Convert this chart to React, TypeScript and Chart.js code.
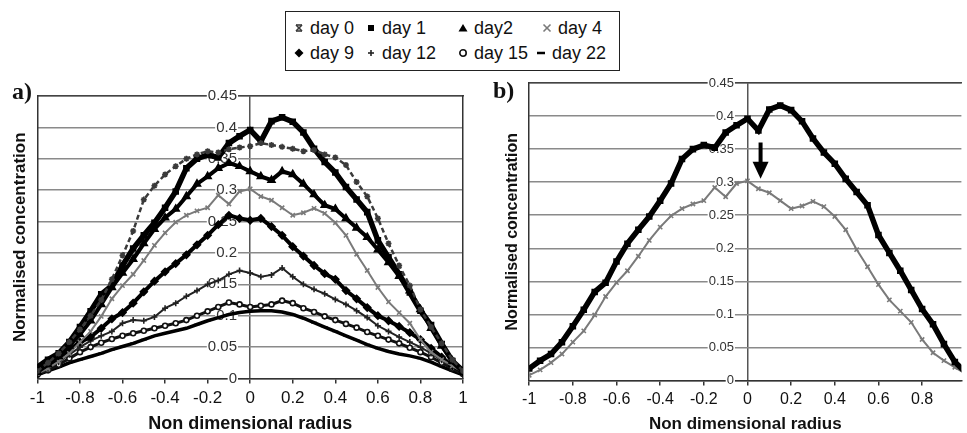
import React, { useEffect, useRef } from "react";
import { Chart, registerables } from "chart.js";

Chart.register(...registerables);

// ---------- data ----------
const radius = [-1, -0.95, -0.9, -0.85, -0.8, -0.75, -0.7, -0.65, -0.6, -0.55, -0.5, -0.45, -0.4, -0.35, -0.3, -0.25, -0.2, -0.15, -0.1, -0.05, 0, 0.05, 0.1, 0.15, 0.2, 0.25, 0.3, 0.35, 0.4, 0.45, 0.5, 0.55, 0.6, 0.65, 0.7, 0.75, 0.8, 0.85, 0.9, 0.95, 1];

const day0 = [0.012, 0.025, 0.04, 0.058, 0.078, 0.1, 0.125, 0.158, 0.196, 0.235, 0.285, 0.307, 0.325, 0.338, 0.35, 0.357, 0.362, 0.36, 0.365, 0.368, 0.37, 0.375, 0.372, 0.369, 0.366, 0.362, 0.364, 0.357, 0.352, 0.34, 0.313, 0.29, 0.255, 0.215, 0.18, 0.148, 0.11, 0.082, 0.056, 0.03, 0.012];
const day1 = [0.018, 0.03, 0.04, 0.058, 0.082, 0.107, 0.134, 0.148, 0.18, 0.207, 0.228, 0.248, 0.272, 0.298, 0.335, 0.35, 0.356, 0.352, 0.375, 0.386, 0.396, 0.378, 0.41, 0.416, 0.409, 0.392, 0.366, 0.345, 0.328, 0.305, 0.285, 0.265, 0.22, 0.193, 0.166, 0.137, 0.108, 0.085, 0.055, 0.028, 0.012];
const day2 = [0.01, 0.022, 0.035, 0.052, 0.07, 0.092, 0.118, 0.145, 0.168, 0.19, 0.215, 0.238, 0.256, 0.27, 0.29, 0.31, 0.322, 0.335, 0.343, 0.338, 0.33, 0.322, 0.316, 0.33, 0.325, 0.31, 0.293, 0.276, 0.27, 0.255, 0.24, 0.225, 0.205, 0.185, 0.163, 0.14, 0.11, 0.08, 0.052, 0.028, 0.01];
const day4 = [0.008, 0.016, 0.027, 0.04, 0.058, 0.075, 0.099, 0.127, 0.148, 0.166, 0.188, 0.212, 0.232, 0.249, 0.26, 0.267, 0.272, 0.292, 0.278, 0.298, 0.302, 0.29, 0.284, 0.272, 0.26, 0.264, 0.271, 0.263, 0.248, 0.228, 0.198, 0.172, 0.145, 0.122, 0.105, 0.088, 0.062, 0.042, 0.03, 0.02, 0.01];
const day9 = [0.008, 0.02, 0.032, 0.046, 0.058, 0.066, 0.08, 0.095, 0.105, 0.12, 0.138, 0.155, 0.17, 0.183, 0.197, 0.213, 0.228, 0.245, 0.26, 0.255, 0.252, 0.255, 0.242, 0.228, 0.21, 0.195, 0.18, 0.167, 0.158, 0.14, 0.127, 0.113, 0.1, 0.092, 0.083, 0.073, 0.062, 0.048, 0.034, 0.02, 0.01];
const day12 = [0.006, 0.015, 0.026, 0.038, 0.05, 0.06, 0.068, 0.075, 0.088, 0.093, 0.092, 0.098, 0.112, 0.12, 0.131, 0.14, 0.15, 0.156, 0.166, 0.172, 0.168, 0.162, 0.165, 0.176, 0.162, 0.15, 0.142, 0.135, 0.126, 0.118, 0.108, 0.097, 0.084, 0.075, 0.066, 0.058, 0.05, 0.04, 0.029, 0.018, 0.007];
const day15 = [0.006, 0.013, 0.022, 0.032, 0.042, 0.05, 0.057, 0.063, 0.068, 0.072, 0.076, 0.08, 0.084, 0.088, 0.093, 0.1, 0.107, 0.114, 0.121, 0.118, 0.114, 0.116, 0.118, 0.124, 0.12, 0.112, 0.106, 0.099, 0.093, 0.087, 0.081, 0.074, 0.068, 0.062, 0.056, 0.049, 0.042, 0.034, 0.025, 0.016, 0.007];
const day22 = [0.006, 0.012, 0.018, 0.025, 0.03, 0.035, 0.04, 0.046, 0.051, 0.056, 0.062, 0.068, 0.072, 0.076, 0.08, 0.086, 0.092, 0.097, 0.102, 0.105, 0.107, 0.108, 0.108, 0.106, 0.102, 0.096, 0.089, 0.082, 0.075, 0.068, 0.061, 0.054, 0.048, 0.043, 0.039, 0.036, 0.032, 0.026, 0.019, 0.012, 0.006];

const seriesLabels = ["day 0", "day 1", "day2", "day 4", "day 9", "day 12", "day 15", "day 22"];
const seriesValues = [day0, day1, day2, day4, day9, day12, day15, day22];
const panelBLabels = ["day 1", "day 4"];
const panelBValues = [day1, day4];

const xTicksA = [-1, -0.8, -0.6, -0.4, -0.2, 0, 0.2, 0.4, 0.6, 0.8, 1];
const xTicksB = [-1, -0.8, -0.6, -0.4, -0.2, 0, 0.2, 0.4, 0.6, 0.8];
const yTicks = [0, 0.05, 0.1, 0.15, 0.2, 0.25, 0.3, 0.35, 0.4, 0.45];

const arrowAt = 0.06;
const arrowFrom = 0.36;
const arrowTo = 0.305;

// ---------- styles ----------
type Style = { color: string; point: string; r: number; lw: number; dash?: number[]; fill?: string };
const styles: Record<string, Style> = {
  "day 0": { color: "#3a3a3a", point: "star", r: 3, lw: 2.5, dash: [5, 3] },
  "day 1": { color: "#000", point: "rect", r: 3.5, lw: 5.5 },
  "day2": { color: "#000", point: "triangle", r: 4, lw: 4 },
  "day 4": { color: "#7a7a7a", point: "crossRot", r: 3, lw: 2 },
  "day 9": { color: "#000", point: "rectRot", r: 3.5, lw: 4 },
  "day 12": { color: "#222", point: "cross", r: 3, lw: 2 },
  "day 15": { color: "#111", point: "circle", r: 2.5, lw: 3, fill: "#fff" },
  "day 22": { color: "#000", point: "line", r: 3, lw: 3.5 },
};

const FONT = "'Liberation Sans', Arial, Helvetica, sans-serif";
// gap (in radius units) between the centred y-axis line and its tick labels
const LABEL_SHIFT = 0.062;

function makeDataset(label: string, values: number[]) {
  const s = styles[label];
  return {
    label,
    data: radius.map((x, i) => ({ x, y: values[i] })),
    showLine: true,
    borderColor: s.color,
    borderWidth: s.lw,
    borderDash: s.dash || [],
    pointStyle: s.point,
    pointRadius: s.r,
    pointBorderWidth: 1.6,
    pointBorderColor: s.color,
    pointBackgroundColor: s.fill || s.color,
    xAxisID: "x",
    yAxisID: "y",
  };
}

const arrowPlugin = {
  id: "arrowPlugin",
  afterDatasetsDraw(chart: any, _args: any, opts: any) {
    if (!opts || !opts.show) return;
    const { ctx, scales } = chart;
    const px = scales.x.getPixelForValue(arrowAt);
    const y1 = scales.y.getPixelForValue(arrowFrom);
    const y2 = scales.y.getPixelForValue(arrowTo);
    ctx.save();
    ctx.strokeStyle = "#000";
    ctx.fillStyle = "#000";
    ctx.lineWidth = 4;
    ctx.beginPath();
    ctx.moveTo(px, y1);
    ctx.lineTo(px, y2 - 14);
    ctx.stroke();
    ctx.beginPath();
    ctx.moveTo(px - 8, y2 - 17);
    ctx.lineTo(px + 8, y2 - 17);
    ctx.lineTo(px, y2);
    ctx.closePath();
    ctx.fill();
    ctx.restore();
  },
};

function buildOptions(cfg: {
  xMax: number;
  xTicks: number[];
  padding: any;
  xTickSize: number;
  xTitleSize: number;
  yTickSize: number;
  yTitleSize: number;
  rightBorder: boolean;
  arrow: boolean;
}) {
  const scales: any = {
    x: {
      type: "linear",
      axis: "x",
      position: "bottom",
      min: -1,
      max: cfg.xMax,
      afterBuildTicks: (scale: any) => {
        scale.ticks = cfg.xTicks.map((v) => ({ value: v }));
      },
      ticks: {
        autoSkip: false,
        maxRotation: 0,
        padding: 6,
        color: "#111",
        font: { family: FONT, size: cfg.xTickSize, lineHeight: 1 },
        callback: (v: any) => String(Math.round(Number(v) * 100) / 100),
      },
      grid: {
        drawOnChartArea: true,
        drawTicks: true,
        tickLength: 5,
        color: (c: any) => (c.tick && c.tick.value === 0 ? "#555" : "rgba(0,0,0,0)"),
        tickColor: "#333",
        lineWidth: 1.5,
      },
      border: { display: true, color: "#333", width: 1.5 },
      title: {
        display: true,
        text: "Non dimensional radius",
        color: "#111",
        font: { family: FONT, size: cfg.xTitleSize, weight: "bold", lineHeight: 1 },
        padding: { top: 2.5, bottom: 0 },
      },
    },
    xt: {
      type: "linear",
      axis: "x",
      position: "top",
      min: -1,
      max: cfg.xMax,
      ticks: { display: false },
      grid: { display: false, drawTicks: false },
      border: { display: true, color: "#444", width: 1.5 },
    },
    xs: {
      type: "linear",
      axis: "x",
      display: false,
      min: -1 + LABEL_SHIFT,
      max: cfg.xMax + LABEL_SHIFT,
    },
    y: {
      type: "linear",
      axis: "y",
      position: { xs: 0 },
      min: 0,
      max: 0.45,
      afterBuildTicks: (scale: any) => {
        scale.ticks = yTicks.map((v) => ({ value: v }));
      },
      ticks: {
        padding: 0,
        color: "#333",
        font: { family: FONT, size: cfg.yTickSize },
        showLabelBackdrop: true,
        backdropColor: "#fff",
        backdropPadding: { x: 1, y: 0 },
        callback: (v: any) => String(Math.round(Number(v) * 100) / 100),
      },
      grid: { color: "#8a8a8a", lineWidth: 1.5, drawTicks: false },
      border: { display: false },
    },
    yl: {
      type: "linear",
      axis: "y",
      position: "left",
      min: 0,
      max: 0.45,
      ticks: { display: false },
      grid: { display: false, drawTicks: false },
      border: { display: true, color: "#333", width: 1.5 },
      title: {
        display: true,
        text: "Normalised concentration",
        color: "#111",
        font: { family: FONT, size: cfg.yTitleSize, weight: "bold", lineHeight: 1.2 },
        padding: { top: 4, bottom: 7 },
      },
    },
  };
  if (cfg.rightBorder) {
    scales.yr = {
      type: "linear",
      axis: "y",
      position: "right",
      min: 0,
      max: 0.45,
      ticks: { display: false },
      grid: { display: false, drawTicks: false },
      border: { display: true, color: "#333", width: 1.5 },
    };
  }
  return {
    animation: false,
    responsive: false,
    maintainAspectRatio: false,
    layout: { padding: cfg.padding },
    plugins: {
      legend: { display: false },
      tooltip: { enabled: false },
      arrowPlugin: { show: cfg.arrow },
    },
    scales,
  };
}

function ChartCanvas(props: {
  labels: string[];
  values: number[][];
  options: any;
  width: number;
  height: number;
  style: React.CSSProperties;
}) {
  const ref = useRef<HTMLCanvasElement | null>(null);
  useEffect(() => {
    if (!ref.current) return;
    const chart = new Chart(ref.current, {
      type: "scatter",
      data: { datasets: props.labels.map((l, i) => makeDataset(l, props.values[i])) as any },
      options: props.options,
      plugins: [arrowPlugin],
    } as any);
    return () => chart.destroy();
  }, []);
  return <canvas ref={ref} width={props.width} height={props.height} style={{ position: "absolute", ...props.style }} />;
}

function Marker({ kind, color }: { kind: string; color: string }) {
  const sw = 1.6;
  let shape: React.ReactNode = null;
  switch (kind) {
    case "star":
      shape = (
        <g stroke={color} strokeWidth={sw}>
          <line x1="2" y1="2" x2="8" y2="8" />
          <line x1="8" y1="2" x2="2" y2="8" />
          <line x1="2" y1="2" x2="8" y2="2" />
          <line x1="2" y1="8" x2="8" y2="8" />
        </g>
      );
      break;
    case "rect":
      shape = <rect x="2" y="2" width="6" height="6" fill={color} />;
      break;
    case "triangle":
      shape = <polygon points="5,1 9.5,8.5 0.5,8.5" fill={color} />;
      break;
    case "crossRot":
      shape = (
        <g stroke={color} strokeWidth={sw}>
          <line x1="1.5" y1="1.5" x2="8.5" y2="8.5" />
          <line x1="8.5" y1="1.5" x2="1.5" y2="8.5" />
        </g>
      );
      break;
    case "rectRot":
      shape = <polygon points="5,0.5 9.5,5 5,9.5 0.5,5" fill={color} />;
      break;
    case "cross":
      shape = (
        <g stroke={color} strokeWidth={sw}>
          <line x1="5" y1="2" x2="5" y2="8" />
          <line x1="2" y1="5" x2="8" y2="5" />
        </g>
      );
      break;
    case "circle":
      shape = <circle cx="5" cy="5" r="3.2" fill="#fff" stroke={color} strokeWidth={1.6} />;
      break;
    case "line":
      shape = <line x1="1" y1="5" x2="9" y2="5" stroke={color} strokeWidth={2.5} />;
      break;
  }
  return (
    <svg width="10" height="10" style={{ display: "inline-block", marginRight: 6, flex: "none" }}>
      {shape}
    </svg>
  );
}

function Legend() {
  const cols = [8, 80, 172, 256];
  return (
    <div
      style={{
        position: "absolute",
        left: 285,
        top: 11,
        width: 333,
        height: 58,
        border: "1.5px solid #222",
        background: "#fff",
        fontFamily: FONT,
        fontSize: 18,
        color: "#111",
      }}
    >
      {seriesLabels.map((l, i) => {
        const row = Math.floor(i / 4);
        const col = i % 4;
        const s = styles[l];
        return (
          <div
            key={l}
            style={{
              position: "absolute",
              left: cols[col] - (col === 3 && row === 1 ? 6 : 0),
              top: 5 + row * 25,
              height: 22,
              display: "flex",
              alignItems: "center",
              whiteSpace: "nowrap",
            }}
          >
            <Marker kind={s.point} color={s.color} />
            <span>{l}</span>
          </div>
        );
      })}
    </div>
  );
}

export default function App() {
  const optsA = buildOptions({
    xMax: 1,
    xTicks: xTicksA,
    padding: { top: 16, left: 6, right: 17, bottom: 0 },
    xTickSize: 17,
    xTitleSize: 18,
    yTickSize: 15,
    yTitleSize: 17,
    rightBorder: true,
    arrow: false,
  });
  const optsB = buildOptions({
    xMax: 0.98,
    xTicks: xTicksB,
    padding: { top: 23, left: 19, right: 0, bottom: 0 },
    xTickSize: 16,
    xTitleSize: 17,
    yTickSize: 13,
    yTitleSize: 16,
    rightBorder: false,
    arrow: true,
  });
  const labelStyle: React.CSSProperties = {
    position: "absolute",
    fontFamily: "'Liberation Serif', 'Times New Roman', serif",
    fontWeight: "bold",
    fontSize: 24,
    lineHeight: "24px",
    color: "#111",
  };
  return (
    <div style={{ position: "absolute", left: 0, top: 0, width: 967, height: 433, background: "#fff", overflow: "hidden" }}>
      <ChartCanvas labels={seriesLabels} values={seriesValues} options={optsA} width={480} height={353} style={{ left: 0, top: 80 }} />
      <ChartCanvas labels={panelBLabels} values={panelBValues} options={optsB} width={487} height={373} style={{ left: 480, top: 60 }} />
      <Legend />
      <div style={{ ...labelStyle, left: 12, top: 79 }}>a)</div>
      <div style={{ ...labelStyle, left: 493, top: 78 }}>b)</div>
    </div>
  );
}
